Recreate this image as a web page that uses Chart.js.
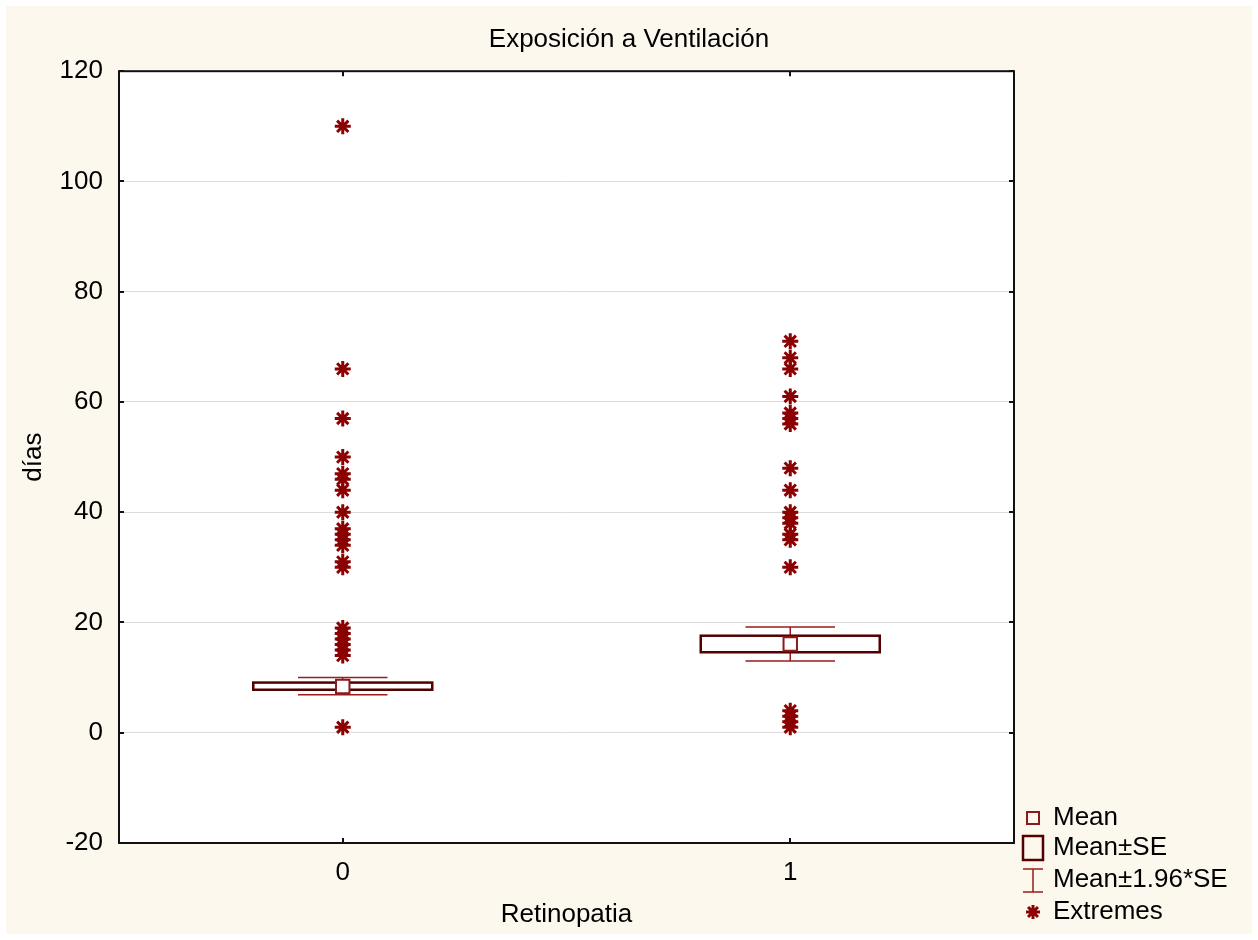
<!DOCTYPE html>
<html>
<head>
<meta charset="utf-8">
<title>Exposición a Ventilación</title>
<script src="https://cdn.jsdelivr.net/npm/chart.js@4.4.1/dist/chart.umd.min.js"></script>
<style>
  html, body { margin: 0; padding: 0; background: #fff; }
  #wrap { width: 1258px; height: 940px; }
</style>
</head>
<body>
<div id="wrap"><canvas id="chart" width="1258" height="940"></canvas></div>
<script>
// --- data ---
const groups = [0, 1];
const groupLabels = ['0', '1'];
const means = [8.4, 16.1];
const seLow = [7.8, 14.6];
const seHigh = [9.1, 17.6];
const ciLow = [6.9, 13.0];
const ciHigh = [10.0, 19.2];
const extremes0 = [110, 66, 57, 50, 47, 46, 44, 40, 37, 36, 35, 34, 31, 30, 19, 18, 17, 16, 15, 14, 1];
const extremes1 = [71, 68, 66, 61, 58, 57, 56, 48, 44, 40, 39, 38, 36, 35, 30, 4, 3, 2, 1];
const yTicks = [-20, 0, 20, 40, 60, 80, 100, 120];
const legendLabels = ['Mean', 'Mean±SE', 'Mean±1.96*SE', 'Extremes'];

// --- styles ---
const FONT = '"Liberation Sans", Arial, sans-serif';
const FONT_SIZE = 26;
const cream = '#FDF8EE';
const extremeColor = '#8B0000';
const boxColor = '#520000';
const whiskerColor = '#9B1C1C';
const meanColor = '#8B1A1A';
const boxHalf = 0.2;   // half box width in x units
const capHalf = 0.1;   // half whisker cap width

Chart.defaults.font.family = FONT;
Chart.defaults.font.size = FONT_SIZE;
Chart.defaults.color = '#000';

const extremePoints = [];
extremes0.forEach(v => extremePoints.push({ x: groups[0], y: v }));
extremes1.forEach(v => extremePoints.push({ x: groups[1], y: v }));

const backdrop = {
    id: 'backdrop',
    beforeDraw(chart) {
        const ctx = chart.ctx, a = chart.chartArea;
        ctx.save();
        ctx.fillStyle = '#fff';
        ctx.fillRect(0, 0, chart.width, chart.height);
        ctx.fillStyle = cream;
        ctx.fillRect(6, 6, chart.width - 12, chart.height - 12);
        ctx.fillStyle = '#fff';
        ctx.fillRect(a.left, a.top, a.right - a.left, a.bottom - a.top);
        ctx.restore();
    }
};

const boxes = {
    id: 'boxes',
    beforeDatasetsDraw(chart) {
        const ctx = chart.ctx, xs = chart.scales.x, ys = chart.scales.y;
        ctx.save();
        groups.forEach((g, i) => {
            const cx = xs.getPixelForValue(g);
            const yLo = ys.getPixelForValue(ciLow[i]), yHi = ys.getPixelForValue(ciHigh[i]);
            const bLo = ys.getPixelForValue(seLow[i]), bHi = ys.getPixelForValue(seHigh[i]);
            const capL = xs.getPixelForValue(g - capHalf), capR = xs.getPixelForValue(g + capHalf);
            const boxL = xs.getPixelForValue(g - boxHalf), boxR = xs.getPixelForValue(g + boxHalf);

            // whiskers
            ctx.strokeStyle = whiskerColor;
            ctx.lineWidth = 1.5;
            ctx.beginPath();
            ctx.moveTo(cx, yHi); ctx.lineTo(cx, bHi);
            ctx.moveTo(cx, bLo); ctx.lineTo(cx, yLo);
            ctx.moveTo(capL, yHi); ctx.lineTo(capR, yHi);
            ctx.moveTo(capL, yLo); ctx.lineTo(capR, yLo);
            ctx.stroke();

            // SE box
            ctx.strokeStyle = boxColor;
            ctx.lineWidth = 2.5;
            ctx.strokeRect(boxL, bHi, boxR - boxL, bLo - bHi);
        });
        ctx.restore();
    }
};

const frame = {
    id: 'frame',
    afterDraw(chart) {
        const ctx = chart.ctx, a = chart.chartArea, xs = chart.scales.x, ys = chart.scales.y;
        ctx.save();
        ctx.strokeStyle = '#111';
        ctx.lineWidth = 2;
        ctx.beginPath();
        yTicks.forEach(v => {
            const y = Math.round(ys.getPixelForValue(v));
            ctx.moveTo(a.left, y); ctx.lineTo(a.left + 5, y);
            ctx.moveTo(a.right, y); ctx.lineTo(a.right - 5, y);
        });
        groups.forEach(g => {
            const x = Math.round(xs.getPixelForValue(g));
            ctx.moveTo(x, a.top); ctx.lineTo(x, a.top + 5);
            ctx.moveTo(x, a.bottom); ctx.lineTo(x, a.bottom - 5);
        });
        ctx.stroke();
        ctx.strokeRect(a.left, a.top, a.right - a.left, a.bottom - a.top);

        // legend
        const lx = 1033, tx = 1053;
        const rows = [818, 848, 880, 912];
        ctx.lineWidth = 2;
        ctx.strokeStyle = meanColor;
        ctx.strokeRect(lx - 6, rows[0] - 6, 12, 12);
        ctx.strokeStyle = boxColor;
        ctx.lineWidth = 2.5;
        ctx.strokeRect(lx - 10, rows[1] - 12, 20, 24);
        ctx.strokeStyle = whiskerColor;
        ctx.lineWidth = 1.5;
        ctx.beginPath();
        ctx.moveTo(lx, rows[2] - 11); ctx.lineTo(lx, rows[2] + 12);
        ctx.moveTo(lx - 10, rows[2] - 11); ctx.lineTo(lx + 10, rows[2] - 11);
        ctx.moveTo(lx - 10, rows[2] + 12); ctx.lineTo(lx + 10, rows[2] + 12);
        ctx.stroke();
        ctx.strokeStyle = extremeColor;
        ctx.lineWidth = 3;
        Chart.helpers.drawPoint(ctx, { pointStyle: 'star', radius: 7, rotation: 0, borderWidth: 3 }, lx, rows[3]);

        ctx.fillStyle = '#000';
        ctx.font = FONT_SIZE + 'px ' + FONT;
        ctx.textBaseline = 'middle';
        ctx.textAlign = 'left';
        legendLabels.forEach((t, i) => ctx.fillText(t, tx, rows[i]));
        ctx.restore();
    }
};

new Chart(document.getElementById('chart'), {
    type: 'scatter',
    data: {
        datasets: [
            {
                label: 'Mean',
                data: groups.map((g, i) => ({ x: g, y: means[i] })),
                pointStyle: 'rect',
                radius: 9.5,
                borderWidth: 2,
                borderColor: meanColor,
                backgroundColor: '#fff'
            },
            {
                label: 'Extremes',
                data: extremePoints,
                pointStyle: 'star',
                radius: 8,
                borderWidth: 3,
                borderColor: extremeColor,
                backgroundColor: extremeColor
            }
        ]
    },
    options: {
        responsive: false,
        devicePixelRatio: 1,
        animation: false,
        events: [],
        layout: { padding: 0 },
        plugins: {
            legend: { display: false },
            tooltip: { enabled: false },
            title: {
                display: true,
                text: 'Exposición a Ventilación',
                color: '#000',
                font: { size: FONT_SIZE, weight: 'normal' },
                padding: { top: 24, bottom: 16 }
            }
        },
        scales: {
            x: {
                type: 'linear',
                min: -0.5,
                max: 1.5,
                afterBuildTicks: s => { s.ticks = groups.map(v => ({ value: v })); },
                afterFit: s => { s.height = 97; },
                grid: { display: false, drawTicks: false },
                border: { display: false },
                ticks: { padding: 14, callback: v => groupLabels[groups.indexOf(v)] },
                title: { display: true, text: 'Retinopatia', padding: { top: 0, bottom: 10 } }
            },
            y: {
                min: -20,
                max: 120,
                afterBuildTicks: s => { s.ticks = yTicks.map(v => ({ value: v })); },
                afterFit: s => { s.width = 119; },
                grid: { color: '#DCDCDC', lineWidth: 1, drawTicks: false },
                border: { display: false },
                ticks: { padding: 16 },
                title: { display: true, text: 'días', padding: { top: 18, bottom: 0 } }
            },
            // empty right-hand strip that holds the legend
            yLegend: {
                position: 'right',
                min: -20,
                max: 120,
                afterFit: s => { s.width = 244; },
                grid: { display: false, drawTicks: false },
                border: { display: false },
                ticks: { display: false }
            }
        }
    },
    plugins: [backdrop, boxes, frame]
});
</script>
</body>
</html>
